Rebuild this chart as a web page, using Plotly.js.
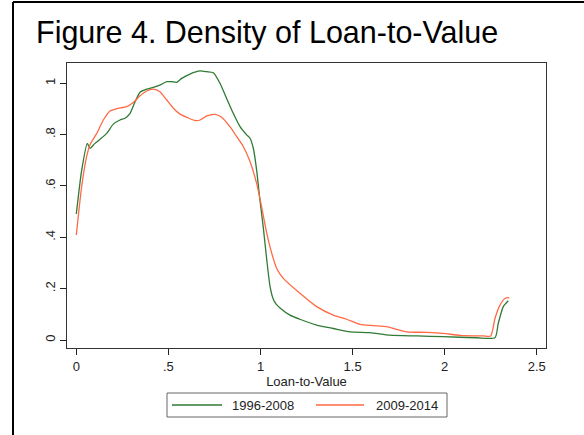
<!DOCTYPE html>
<html>
<head>
<meta charset="utf-8">
<script src="https://cdn.plot.ly/plotly-3.0.1.min.js"></script>
<style>
  html, body { margin: 0; padding: 0; background: #fff; }
  #chart { width: 584px; height: 435px; }
</style>
</head>
<body>
<div id="chart"></div>
<script>
// ---- Data ----
const seriesNames = ["1996-2008", "2009-2014"];

const ltvEarly = [0, 0.029, 0.06, 0.074, 0.1, 0.129, 0.165, 0.201, 0.237, 0.264, 0.292, 0.319, 0.346, 0.382, 0.418, 0.454, 0.491, 0.518, 0.545, 0.572, 0.617, 0.672, 0.708, 0.744, 0.78, 0.816, 0.852, 0.889, 0.925, 0.943, 0.961, 0.979, 0.997, 1.015, 1.034, 1.052, 1.07, 1.085, 1.106, 1.16, 1.214, 1.305, 1.395, 1.486, 1.594, 1.703, 1.848, 1.992, 2.174, 2.273, 2.291, 2.318, 2.345];
const densEarly = [0.491, 0.66, 0.766, 0.747, 0.765, 0.782, 0.805, 0.841, 0.857, 0.864, 0.883, 0.928, 0.965, 0.977, 0.984, 0.993, 1.006, 1.006, 1.004, 1.019, 1.036, 1.048, 1.045, 1.041, 1.0, 0.941, 0.883, 0.831, 0.799, 0.786, 0.747, 0.662, 0.545, 0.44, 0.312, 0.208, 0.158, 0.14, 0.125, 0.097, 0.081, 0.058, 0.045, 0.032, 0.029, 0.019, 0.016, 0.013, 0.009, 0.009, 0.065, 0.13, 0.153];

const ltvLate = [0, 0.029, 0.056, 0.074, 0.111, 0.147, 0.183, 0.219, 0.274, 0.309, 0.346, 0.382, 0.418, 0.454, 0.491, 0.527, 0.563, 0.599, 0.644, 0.672, 0.708, 0.753, 0.789, 0.834, 0.871, 0.907, 0.943, 0.979, 1.006, 1.034, 1.061, 1.088, 1.124, 1.214, 1.305, 1.395, 1.468, 1.54, 1.612, 1.685, 1.794, 1.902, 1.992, 2.083, 2.21, 2.25, 2.273, 2.3, 2.327, 2.351];
const densLate = [0.409, 0.597, 0.714, 0.76, 0.805, 0.857, 0.892, 0.901, 0.909, 0.925, 0.951, 0.97, 0.977, 0.967, 0.935, 0.903, 0.88, 0.868, 0.855, 0.857, 0.873, 0.879, 0.868, 0.831, 0.792, 0.753, 0.695, 0.61, 0.519, 0.416, 0.338, 0.279, 0.24, 0.182, 0.13, 0.097, 0.081, 0.061, 0.056, 0.052, 0.032, 0.03, 0.026, 0.018, 0.016, 0.016, 0.084, 0.136, 0.162, 0.165];

const xTickVals = [0, 0.5, 1, 1.5, 2, 2.5];
const xTickText = ["0", ".5", "1", "1.5", "2", "2.5"];
const yTickVals = [0, 0.2, 0.4, 0.6, 0.8, 1];
const yTickText = ["0", ".2", ".4", ".6", ".8", "1"];

const titleText = "Figure 4. Density of Loan-to-Value";
const xTitle = "Loan-to-Value";

// ---- Layout geometry (pixels) ----
const W = 584, H = 435;
const M = { l: 67, r: 38, t: 63, b: 87 };
const PW = W - M.l - M.r, PH = H - M.t - M.b;
const px = v => (v - M.l) / PW;          // pixel x -> paper x
const py = v => (H - M.b - v) / PH;      // pixel y -> paper y

const green = "#2f7a34";
const red = "#ff6a45";
const font = "Liberation Sans, Arial, sans-serif";

const traces = [
  { x: ltvEarly, y: densEarly, name: seriesNames[0], type: "scatter", mode: "lines",
    line: { color: green, width: 1.3, shape: "spline", smoothing: 0.6 }, hoverinfo: "x+y" },
  { x: ltvLate, y: densLate, name: seriesNames[1], type: "scatter", mode: "lines",
    line: { color: red, width: 1.3, shape: "spline", smoothing: 0.6 }, hoverinfo: "x+y" }
];

const layout = {
  width: W, height: H,
  margin: M,
  paper_bgcolor: "#ffffff",
  plot_bgcolor: "#ffffff",
  showlegend: false,
  font: { family: font, size: 13, color: "#222" },
  title: {
    text: titleText,
    font: { family: font, size: 30.5, color: "#000" },
    xref: "container", yref: "container",
    x: 36 / W, xanchor: "left",
    y: 1 - 32 / H, yanchor: "middle"
  },
  xaxis: {
    range: [-0.0505, 2.55],
    tickvals: xTickVals, ticktext: xTickText,
    ticks: "outside", ticklen: 6, tickwidth: 1, tickcolor: "#222",
    showline: true, linecolor: "#333", linewidth: 1, mirror: true,
    showgrid: false, zeroline: false,
    tickfont: { family: font, size: 13, color: "#222" },
    title: { text: xTitle, font: { family: font, size: 13, color: "#222" }, standoff: 1 },
    automargin: false
  },
  yaxis: {
    range: [-0.031, 1.079],
    tickvals: yTickVals, ticktext: yTickText,
    tickangle: -90,
    ticks: "outside", ticklen: 6, tickwidth: 1, tickcolor: "#222",
    showline: true, linecolor: "#333", linewidth: 1, mirror: true,
    showgrid: false, zeroline: false,
    tickfont: { family: font, size: 13, color: "#222" },
    automargin: false
  },
  shapes: [
    // outer figure frame (left and top edges)
    { type: "line", xref: "paper", yref: "paper", x0: px(13), x1: px(13), y0: py(2), y1: py(H + 5),
      line: { color: "#000", width: 2 } },
    { type: "line", xref: "paper", yref: "paper", x0: px(13), x1: px(W + 5), y0: py(2), y1: py(2),
      line: { color: "#000", width: 2 } },
    // legend box and keys
    { type: "rect", xref: "paper", yref: "paper", x0: px(167), x1: px(447), y0: py(393), y1: py(417),
      line: { color: "#666", width: 1 }, fillcolor: "rgba(0,0,0,0)" },
    { type: "line", xref: "paper", yref: "paper", x0: px(172), x1: px(222), y0: py(405), y1: py(405),
      line: { color: green, width: 1.3 } },
    { type: "line", xref: "paper", yref: "paper", x0: px(316), x1: px(364), y0: py(405), y1: py(405),
      line: { color: red, width: 1.3 } }
  ],
  annotations: [
    { text: seriesNames[0], xref: "paper", yref: "paper", x: px(230), y: py(405),
      xanchor: "left", yanchor: "middle", showarrow: false,
      font: { family: font, size: 13, color: "#222" } },
    { text: seriesNames[1], xref: "paper", yref: "paper", x: px(374), y: py(405),
      xanchor: "left", yanchor: "middle", showarrow: false,
      font: { family: font, size: 13, color: "#222" } }
  ]
};

Plotly.newPlot("chart", traces, layout, { staticPlot: true, displayModeBar: false });
</script>
</body>
</html>
